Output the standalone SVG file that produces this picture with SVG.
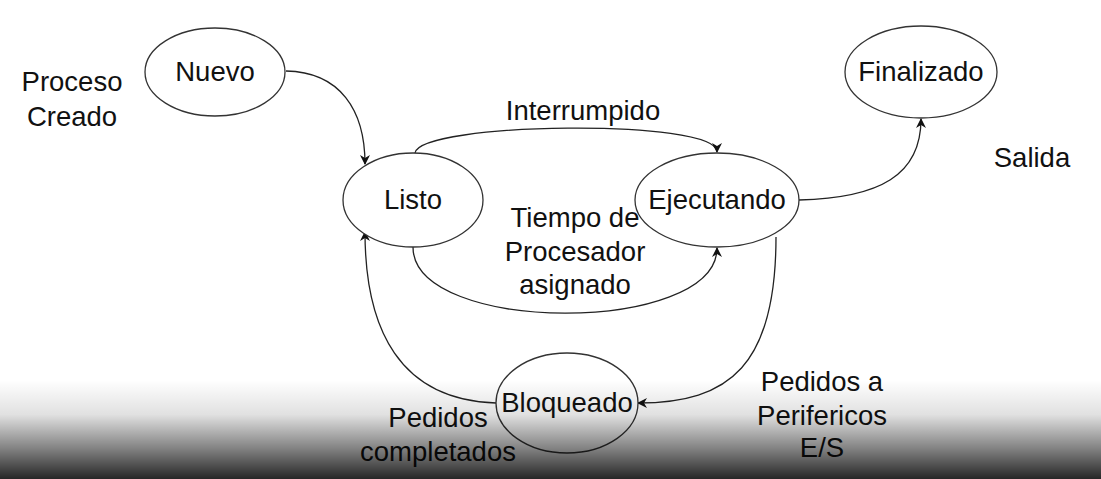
<svg xmlns="http://www.w3.org/2000/svg" width="1101" height="479" viewBox="0 0 1101 479">
<style>
.node ellipse{fill:#fff;stroke:#333;stroke-width:1.3}
text{font-family:"Liberation Sans",Arial,sans-serif;font-size:27.5px;fill:#111;text-anchor:middle}
.conn path{fill:none;stroke:#222;stroke-width:1.3}
</style>
<defs>
<marker id="arr" viewBox="0 0 10 10" refX="9" refY="5" markerWidth="10" markerHeight="10" markerUnits="userSpaceOnUse" orient="auto">
<path d="M0,0 L10,5 L0,10 L3,5 Z" fill="#111"/>
</marker>
<linearGradient id="shade" x1="0" y1="0" x2="0" y2="1">
<stop offset="0" stop-color="#000" stop-opacity="0"/>
<stop offset="0.35" stop-color="#000" stop-opacity="0.12"/>
<stop offset="0.7" stop-color="#000" stop-opacity="0.5"/>
<stop offset="1" stop-color="#000" stop-opacity="0.85"/>
</linearGradient>
</defs>
<rect width="1101" height="479" fill="#fff"/>
<g class="conn">
<path d="M286,71 C340,72 365,110 365,164" marker-end="url(#arr)"/>
<path d="M415,153 C420,122 717,118 717,152" marker-end="url(#arr)"/>
<path d="M413,247 C413,335 717,335 717,248" marker-end="url(#arr)"/>
<path d="M799,200 C880,198 921,175 921,119" marker-end="url(#arr)"/>
<path d="M776,237 C776,365 730,403 638,403" marker-end="url(#arr)"/>
<path d="M496,403 C400,400 365,330 365,232" marker-end="url(#arr)"/>
</g>
<g id="nuevo" class="node"><ellipse cx="215" cy="72" rx="70" ry="44"/><text x="215" y="81">Nuevo</text></g>
<g id="listo" class="node"><ellipse cx="413" cy="200" rx="70" ry="47"/><text x="413" y="209">Listo</text></g>
<g id="ejecutando" class="node"><ellipse cx="717" cy="200" rx="82" ry="47"/><text x="717" y="209">Ejecutando</text></g>
<g id="finalizado" class="node"><ellipse cx="921" cy="72" rx="76" ry="46"/><text x="921" y="81">Finalizado</text></g>
<g id="bloqueado" class="node"><ellipse cx="567" cy="403" rx="71" ry="50"/><text x="567" y="412">Bloqueado</text></g>
<g id="labels">
<text x="72" y="91">Proceso</text>
<text x="72" y="126">Creado</text>
<text x="583" y="120">Interrumpido</text>
<text x="1032" y="167">Salida</text>
<text x="575" y="227">Tiempo de</text>
<text x="575" y="261">Procesador</text>
<text x="575" y="294">asignado</text>
<text x="822" y="391">Pedidos a</text>
<text x="822" y="425">Perifericos</text>
<text x="822" y="457">E/S</text>
<text x="438" y="427">Pedidos</text>
<text x="438" y="461">completados</text>
</g>
<rect x="0" y="380" width="1101" height="99" fill="url(#shade)"/>
</svg>
